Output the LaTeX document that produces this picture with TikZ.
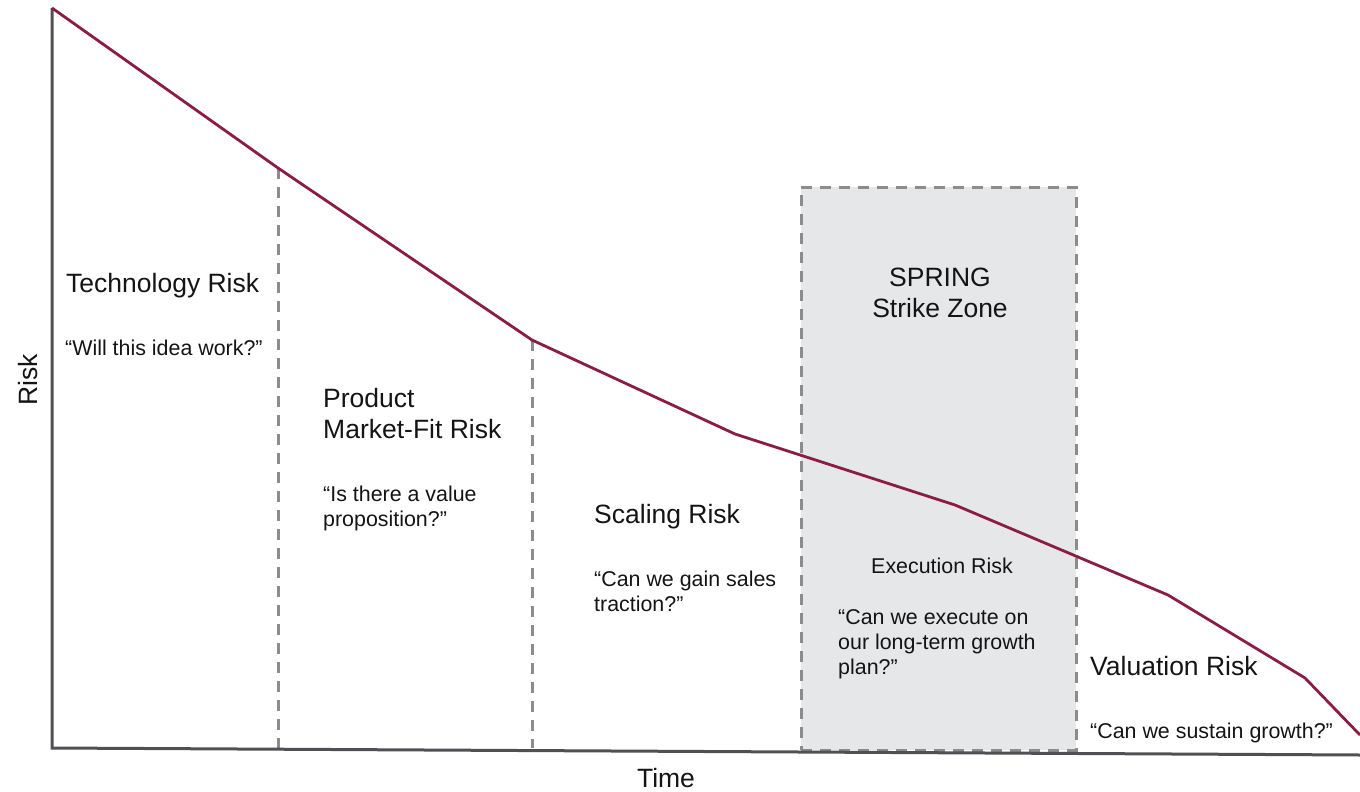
\documentclass[tikz,border=0pt]{standalone}
\usepackage{fontspec}
\setmainfont{Liberation Sans}
\usetikzlibrary{fit}
\definecolor{curvecol}{RGB}{140,28,64}
\definecolor{axiscol}{RGB}{80,80,84}
\definecolor{dashcol}{RGB}{140,140,140}
\definecolor{zonefill}{RGB}{230,231,233}
\definecolor{txt}{RGB}{20,20,20}
\tikzset{
  big/.style={font=\fontsize{26.5}{31}\selectfont, text=txt, inner sep=0pt, align=left},
  small/.style={font=\fontsize{21.4}{25}\selectfont, text=txt, inner sep=0pt, align=left},
  divider/.style={draw=dashcol, line width=3pt, dash pattern=on 11pt off 8pt},
  axis/.style={draw=axiscol, line width=3pt},
  riskcurve/.style={draw=curvecol, line width=2.8pt, line join=round},
}
\begin{document}
\begin{tikzpicture}[x=1pt,y=-1pt]
\useasboundingbox (0,0) rectangle (1360,792);
% strike zone
\node[divider, fill=zonefill, inner sep=0pt, fit={(801,187) (1076,750)}] (zone) {};
% curve vertices
\coordinate (p0) at (52,8);
\coordinate (p1) at (278,168);
\coordinate (p2) at (532,340);
\coordinate (p3) at (735,434);
\coordinate (p4) at (955,505);
\coordinate (p5) at (1168,595);
\coordinate (p6) at (1305,678);
\coordinate (p7) at (1360,735);
\coordinate (o) at (52,748);
\coordinate (xend) at (1360,755);
\coordinate (d1) at (278,748);
\coordinate (d2) at (532,748);
% dividers
\draw[divider] (p1) -- (d1);
\draw[divider] (p2) -- (d2);
% axes
\draw[axis, line join=miter] (p0) -- (o) -- (xend);
% curve
\draw[riskcurve] (p0) -- (p1) -- (p2) -- (p3) -- (p4) -- (p5) -- (p6) -- (p7);
% labels (multi-line nodes: base = last line's baseline)
\node[big, anchor=base west] (tech) at (66,292) {Technology Risk};
\node[small, anchor=base west] (techq) at (65,355) {“Will this idea work?”};
\node[big, anchor=base west] (prod) at (323,438) {Product\\Market-Fit Risk};
\node[small, anchor=base west] (prodq) at (323,526) {“Is there a value\\proposition?”};
\node[big, anchor=base west] (scale) at (594,523) {Scaling Risk};
\node[small, anchor=base west] (scaleq) at (594,611) {“Can we gain sales\\traction?”};
\node[big, anchor=base, align=center] (spring) at (940,317) {SPRING\\Strike Zone};
\node[small, anchor=base] (exec) at (942,573) {Execution Risk};
\node[small, anchor=base west] (execq) at (838,674) {“Can we execute on\\our long-term growth\\plan?”};
\node[big, anchor=base west] (val) at (1090,675) {Valuation Risk};
\node[small, anchor=base west] (valq) at (1090,738) {“Can we sustain growth?”};
\node[big, rotate=90] (risk) at (28,380) {Risk};
\node[big, anchor=base] (time) at (666,787) {Time};
\end{tikzpicture}
\end{document}
